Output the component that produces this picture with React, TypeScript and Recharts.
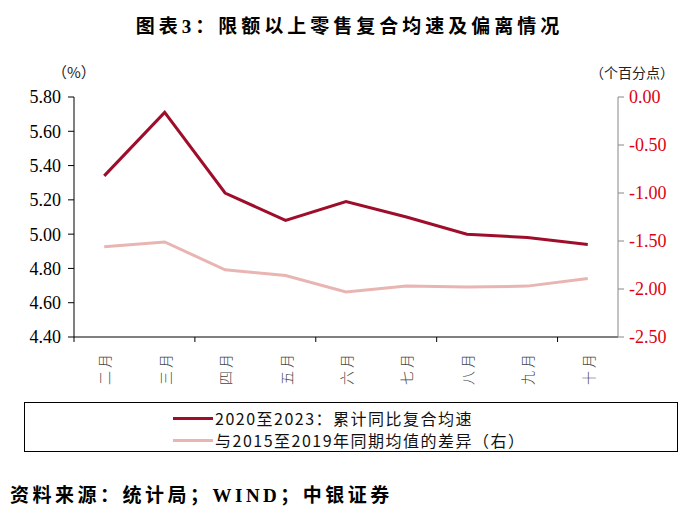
import { LineChart, Line, XAxis, YAxis } from 'recharts';

// 月份
const months = ['二月', '三月', '四月', '五月', '六月', '七月', '八月', '九月', '十月'];
// 2020至2023：累计同比复合均速（%）
const compoundGrowth = [5.34, 5.71, 5.24, 5.08, 5.19, 5.10, 5.00, 4.98, 4.94];
// 与2015至2019年同期均值的差异（个百分点，右轴）
const deviation = [-1.56, -1.51, -1.80, -1.86, -2.03, -1.97, -1.98, -1.97, -1.89];

const leftTicks = [4.4, 4.6, 4.8, 5.0, 5.2, 5.4, 5.6, 5.8];
const rightTicks = [-2.5, -2.0, -1.5, -1.0, -0.5, 0];

const DARK = '#9e0e2b';
const PINK = '#e8b5b3';
const serif = '"Times New Roman", "Liberation Serif", "Noto Sans CJK SC", serif';
const sans = '"Noto Sans CJK SC", "Noto Sans", sans-serif';

const data = months.map((m, i) => ({ month: m, growth: compoundGrowth[i], dev: deviation[i] }));

const BAND = 544 / months.length;

function MonthTick(props: any) {
  const { x, y, payload, index } = props;
  return (
    <g>
      {index % 2 === 0 && (
        <line x1={x - BAND / 2} x2={x - BAND / 2} y1={y - 8} y2={y - 3} stroke="#000" />
      )}
      <text
        x={x}
        y={y + 6}
        transform={`rotate(-90, ${x}, ${y + 6})`}
        textAnchor="end"
        dominantBaseline="central"
        fontSize={14}
        fill="#444"
        fontFamily={sans}
        fontWeight={300}
        letterSpacing={3}
      >
        {payload.value}
      </text>
    </g>
  );
}

export default function App() {
  return (
    <div style={{ position: 'absolute', left: 0, top: 0, width: 699, height: 518, background: '#fff' }}>
      <div
        style={{
          position: 'absolute', left: 0, top: 11, width: 699, textAlign: 'center',
          fontFamily: serif, fontWeight: 'bold', fontSize: 19, letterSpacing: 4, color: '#000',
        }}
      >
        图表3：限额以上零售复合均速及偏离情况
      </div>

      <div style={{ position: 'absolute', left: 52, top: 61, fontFamily: sans, fontSize: 15, color: '#222' }}>
        （%）
      </div>
      <div style={{ position: 'absolute', left: 590, top: 62, fontFamily: sans, fontSize: 14, color: '#222' }}>
        （个百分点）
      </div>

      <LineChart
        width={699}
        height={518}
        data={data}
        margin={{ top: 97, right: 0, bottom: 140, left: 0 }}
        style={{ position: 'absolute', left: 0, top: 0 }}
      >
        <XAxis
          dataKey="month"
          height={41}
          stroke="#000"
          tickLine={false}
          tick={<MonthTick />}
          interval={0}
          padding={{ left: BAND / 2, right: BAND / 2 }}
        />
        <YAxis
          yAxisId="left"
          width={74}
          domain={[4.4, 5.8]}
          ticks={leftTicks}
          tickFormatter={(v: number) => v.toFixed(2)}
          stroke="#000"
          tickSize={6}
          tick={{ fill: '#000', fontSize: 18, fontFamily: serif, dx: -5 }}
          interval={0}
        />
        <YAxis
          yAxisId="right"
          orientation="right"
          width={81}
          domain={[-2.5, 0]}
          ticks={rightTicks}
          tickFormatter={(v: number) => v.toFixed(2)}
          stroke="#888"
          tickSize={6}
          tick={{ fill: '#e00010', fontSize: 18, fontFamily: serif, dx: 3 }}
          interval={0}
        />
        <Line
          yAxisId="left"
          dataKey="growth"
          stroke={DARK}
          strokeWidth={3}
          dot={false}
          isAnimationActive={false}
        />
        <Line
          yAxisId="right"
          dataKey="dev"
          stroke={PINK}
          strokeWidth={3}
          dot={false}
          isAnimationActive={false}
        />
      </LineChart>

      <div
        style={{
          position: 'absolute', left: 24, top: 402, width: 654, height: 50,
          border: '1.5px solid #000', boxSizing: 'border-box', fontFamily: sans, fontSize: 16, color: '#111',
        }}
      >
        <div style={{ position: 'absolute', left: 148, top: 3, display: 'flex', alignItems: 'center', whiteSpace: 'nowrap' }}>
          <span style={{ display: 'inline-block', width: 40, height: 3, background: DARK, marginRight: 2 }} />
          <span style={{ letterSpacing: 1.5 }}>2020至2023：累计同比复合均速</span>
        </div>
        <div style={{ position: 'absolute', left: 148, top: 25, display: 'flex', alignItems: 'center', whiteSpace: 'nowrap' }}>
          <span style={{ display: 'inline-block', width: 40, height: 3, background: PINK, marginRight: 2 }} />
          <span style={{ letterSpacing: 1.5 }}>与2015至2019年同期均值的差异（右）</span>
        </div>
      </div>

      <div
        style={{
          position: 'absolute', left: 10, top: 480, fontFamily: serif, fontWeight: 'bold',
          fontSize: 19, letterSpacing: 3.5, color: '#000',
        }}
      >
        资料来源：统计局；WIND；中银证券
      </div>
    </div>
  );
}
